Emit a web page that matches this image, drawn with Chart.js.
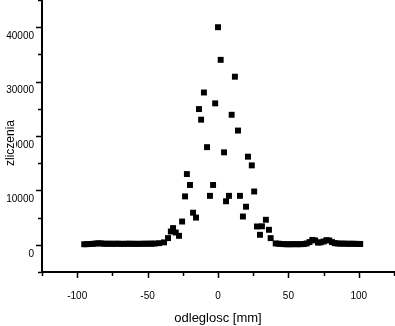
<!DOCTYPE html>
<html lang="pl">
<head>
    <meta charset="UTF-8">
    <title>zliczenia</title>
    <script src="https://cdn.jsdelivr.net/npm/chart.js"></script>
    <style>
        html, body {
            margin: 0;
            padding: 0;
            background: #fff;
        }
        #wrap {
            width: 395px;
            height: 326px;
        }
    </style>
</head>
<body>
    <div id="wrap"><canvas id="profile"></canvas></div>

    <script>
        // position along the scan [mm]
        const distance = [
            -95, -93, -91, -89, -87, -85, -83, -81, -79, -77, -75, -73, -71,
            -69, -67, -65, -63, -61, -59, -57, -55, -53, -51, -49, -47, -45,
            -41.8, -38.3, -35.5, -33.5, -31.9, -30, -27.7, -25.5, -23.4, -22.1,
            -19.9, -17.7, -15.6, -13.5, -12, -10, -7.8, -5.7, -3.5, -2,
            0, 1.9, 4.3, 5.7, 7.8, 9.7, 12, 14.2, 15.6, 17.7, 19.9, 21.3,
            24, 25.7, 27.7, 29.8, 31.2, 34, 36.2, 37.4,
            41, 43, 45, 47, 49, 51, 53, 55, 57, 59, 61, 63, 65, 67, 69, 71,
            73, 75, 77, 79, 81, 83, 85, 87, 89, 91, 93, 95, 97, 99, 101
        ];
        // counts measured at each position
        const counts = [
            100, 120, 150, 170, 230, 280, 250, 200, 190, 200, 180, 190, 200,
            180, 170, 190, 200, 180, 190, 170, 180, 200, 190, 210, 200, 230,
            300, 450, 1230, 2440, 3070, 2260, 1650, 4280, 8900, 13000,
            11000, 5900, 5000, 24950, 23000, 28000, 17950, 9000, 11000, 26000,
            40000, 34000, 17000, 8000, 9000, 23900, 30900, 21000, 9000, 5200, 7000, 16200,
            14600, 9800, 3370, 1840, 3400, 4600, 2760, 1230,
            250, 200, 150, 120, 100, 100, 110, 120, 100, 120, 150, 250, 500, 900, 800, 400,
            450, 600, 850, 800, 500, 300, 250, 200, 220, 200, 180, 200, 180, 170, 150
        ];

        const xTicks = { min: -125, max: 125, step: 25, labelEvery: 50 };
        const yTicks = { min: -5000, max: 45000, step: 5000, labelEvery: 10000 };

        const points = distance.map((d, i) => ({ x: d, y: counts[i] }));

        const fontFamily = '"Liberation Sans", Arial, sans-serif';

        // tick marks (long on labelled values, short in between) and axis titles
        const axisExtras = {
            id: 'axisExtras',
            afterDraw(chart) {
                const { ctx, chartArea, scales } = chart;
                const sx = scales.x, sy = scales.y;
                ctx.save();
                ctx.strokeStyle = '#000';
                ctx.lineWidth = 1.5;
                ctx.beginPath();
                for (let v = xTicks.min; v <= xTicks.max; v += xTicks.step) {
                    const px = Math.round(sx.getPixelForValue(v)) + 0.5;
                    ctx.moveTo(px, chartArea.bottom + 1);
                    ctx.lineTo(px, chartArea.bottom + (v % xTicks.labelEvery === 0 ? 6 : 4));
                }
                for (let v = yTicks.min; v <= yTicks.max; v += yTicks.step) {
                    const py = Math.round(sy.getPixelForValue(v)) + 0.5;
                    ctx.moveTo(chartArea.left - 1, py);
                    ctx.lineTo(chartArea.left - (v % yTicks.labelEvery === 0 ? 6 : 4), py);
                }
                ctx.stroke();

                ctx.fillStyle = '#000';
                ctx.font = '13px ' + fontFamily;
                ctx.textAlign = 'center';
                ctx.textBaseline = 'alphabetic';
                ctx.fillText('odleglosc [mm]', (chartArea.left + chartArea.right) / 2, chartArea.bottom + 50);

                // y title sits on a white box over the tick labels
                const cy = (chartArea.top + chartArea.bottom) / 2 + 7;
                ctx.fillStyle = '#fff';
                ctx.fillRect(0, cy - 25, 16, 50);
                ctx.translate(14, cy);
                ctx.rotate(-Math.PI / 2);
                ctx.fillStyle = '#000';
                ctx.font = '12px ' + fontFamily;
                ctx.textBaseline = 'alphabetic';
                ctx.fillText('zliczenia', 0, 0);
                ctx.restore();
            }
        };

        new Chart(document.getElementById('profile'), {
            type: 'scatter',
            data: {
                datasets: [{
                    label: 'zliczenia',
                    data: points,
                    pointStyle: 'rect',
                    pointRadius: 4.2,
                    pointBorderWidth: 0,
                    backgroundColor: '#000',
                    borderColor: '#000'
                }]
            },
            options: {
                responsive: true,
                maintainAspectRatio: false,
                animation: false,
                layout: {
                    autoPadding: false,
                    padding: { top: 0, right: 1, bottom: 0, left: 0 }
                },
                plugins: {
                    legend: { display: false },
                    tooltip: { enabled: false }
                },
                scales: {
                    x: {
                        type: 'linear',
                        min: xTicks.min,
                        max: xTicks.max,
                        afterFit: s => {
                            s.height = 54;
                            s.paddingLeft = 0;
                            s.paddingRight = 0;
                        },
                        grid: { display: false, drawTicks: false },
                        border: { display: true, color: '#000', width: 2 },
                        ticks: {
                            stepSize: xTicks.step,
                            autoSkip: false,
                            maxRotation: 0,
                            padding: 18,
                            color: '#000',
                            font: { family: fontFamily, size: 10 },
                            callback: v => (v % xTicks.labelEvery === 0 ? v : null)
                        }
                    },
                    y: {
                        type: 'linear',
                        min: yTicks.min,
                        max: yTicks.max,
                        afterFit: s => {
                            s.width = 42;
                            s.paddingTop = 0;
                            s.paddingBottom = 0;
                        },
                        grid: { display: false, drawTicks: false },
                        border: { display: true, color: '#000', width: 2 },
                        ticks: {
                            stepSize: yTicks.step,
                            autoSkip: false,
                            padding: 8,
                            labelOffset: 9,
                            color: '#000',
                            font: { family: fontFamily, size: 10 },
                            callback: v => (v % yTicks.labelEvery === 0 ? v : null)
                        }
                    }
                }
            },
            plugins: [axisExtras]
        });
    </script>
</body>
</html>
